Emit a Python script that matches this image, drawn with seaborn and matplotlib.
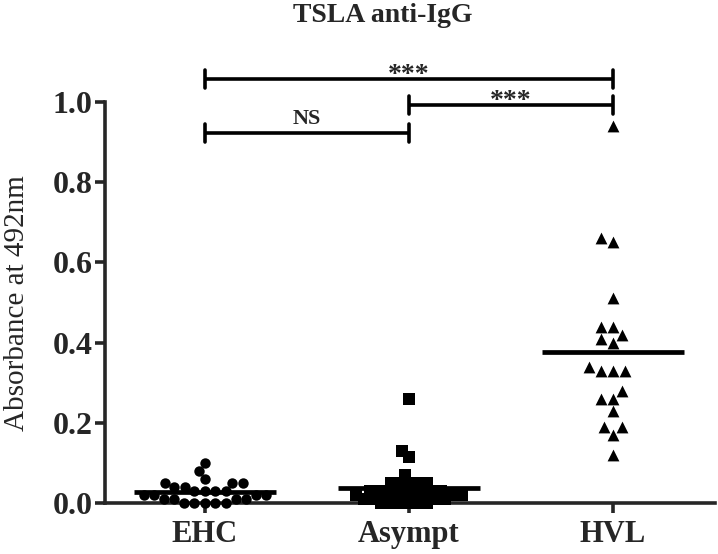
import matplotlib
matplotlib.use("Agg")
import matplotlib.pyplot as plt
import seaborn as sns
import pandas as pd
import numpy as np
import warnings

warnings.filterwarnings("ignore")

# Values (absorbance at 492nm)
groups = ["EHC", "Asympt", "HVL"]
ehc_vals = [0.10, 0.08, 0.06, 0.05, 0.05, 0.05, 0.04, 0.04, 0.03, 0.03, 0.03, 0.03,
            0.02, 0.02, 0.02, 0.02, 0.01, 0.01, 0.01, 0.01, 0.00, 0.00, 0.00, 0.00, 0.00]
asympt_vals = [0.26, 0.13, 0.115, 0.07, 0.05, 0.05, 0.05, 0.05, 0.05,
               0.03, 0.03, 0.03, 0.03, 0.02, 0.02, 0.02, 0.02, 0.02, 0.02, 0.02, 0.02,
               0.01, 0.01, 0.01, 0.01, 0.00, 0.00, 0.00, 0.00, 0.00, 0.00]
hvl_vals = [0.94, 0.66, 0.65, 0.51, 0.44, 0.44, 0.42, 0.41, 0.40, 0.34, 0.33, 0.33,
            0.33, 0.28, 0.26, 0.26, 0.23, 0.19, 0.19, 0.17, 0.12]
markers = {"EHC": "o", "Asympt": "s", "HVL": "^"}
sizes = {"EHC": 7.5, "Asympt": 9, "HVL": 8.5}
# swarm layout size (smaller than drawn size so the clusters overlap like the original)
layout_sizes = {"EHC": 7.2, "Asympt": 6.3, "HVL": 8.5}

# Significance brackets: (group a, group b, height, label)
brackets = [("EHC", "HVL", 1.058, "***"),
            ("Asympt", "HVL", 0.993, "***"),
            ("EHC", "Asympt", 0.922, "NS")]

df = pd.DataFrame({
    "group": ["EHC"] * len(ehc_vals) + ["Asympt"] * len(asympt_vals) + ["HVL"] * len(hvl_vals),
    "value": ehc_vals + asympt_vals + hvl_vals,
})

sns.set_style("white")
plt.rcParams["font.family"] = ["Liberation Serif", "DejaVu Serif"]

fig = plt.figure(figsize=(7.18, 5.54), dpi=100)
ax = fig.add_axes([105 / 718, 1 - 503 / 554, 610 / 718, 401 / 554])

swarms = {}
for g in groups:
    n_before = len(ax.collections)
    sns.swarmplot(data=df[df["group"] == g], x="group", y="value", order=groups,
                  marker=markers[g], color="black", size=layout_sizes[g],
                  linewidth=0, ax=ax, zorder=3)
    swarms[g] = ax.collections[n_before:]

# mean lines
sns.pointplot(data=df, x="group", y="value", order=groups, estimator="mean",
              errorbar=None, color="black", linestyle="none", marker="_",
              markersize=102, markeredgewidth=3.4, ax=ax, zorder=4)

ax.set_xlim(-0.49, 2.5)
ax.set_ylim(0, 1.0)

# lay the swarms out at the small size, then freeze them and draw bigger markers
fig.canvas.draw()
for g, cols in swarms.items():
    for c in cols:
        if "draw" in c.__dict__:
            del c.draw
        c.set_sizes([sizes[g] ** 2])

for c in ax.collections:
    c.set_clip_on(False)
for l in ax.lines:
    l.set_clip_on(False)

# brackets
for a, b, h, lab in brackets:
    xa, xb = groups.index(a), groups.index(b)
    ax.plot([xa, xb], [h, h], color="black", lw=2.6, clip_on=False,
            solid_capstyle="butt")
    for xx in (xa, xb):
        ax.plot([xx, xx], [h - 0.022, h + 0.022], color="black", lw=2.6,
                clip_on=False, solid_capstyle="round")
    if lab == "NS":
        ax.text((xa + xb) / 2, h + 0.010, lab, ha="center", va="bottom",
                fontsize=16, fontweight="bold", clip_on=False)
    else:
        ax.text((xa + xb) / 2, h - 0.022, lab, ha="center", va="bottom",
                fontsize=20, fontweight="bold", clip_on=False)

sns.despine(ax=ax)
ax.spines["left"].set_linewidth(2.6)
ax.spines["bottom"].set_linewidth(2.6)
ax.set_yticks(np.arange(0, 1.01, 0.2))
ax.set_yticklabels([f"{v:.1f}" for v in np.arange(0, 1.01, 0.2)],
                   fontsize=23, fontweight="bold")
ax.set_xticks(range(len(groups)))
ax.set_xticklabels(groups, fontsize=22, fontweight="bold")
ax.tick_params(axis="both", direction="out", length=7, width=2.6, pad=2,
               left=True, bottom=True)
ax.tick_params(axis="x", pad=5)
ax.set_xlabel("")
ax.set_ylabel("")

fig.text(17 / 718, 1 - 303 / 554, "Absorbance at 492nm", rotation=90,
         ha="center", va="center", fontsize=21)
fig.text(383 / 718, 1 - 15 / 554, "TSLA anti-IgG", ha="center", va="center",
         fontsize=20, fontweight="bold")

fig.savefig("out.png", dpi=100)
